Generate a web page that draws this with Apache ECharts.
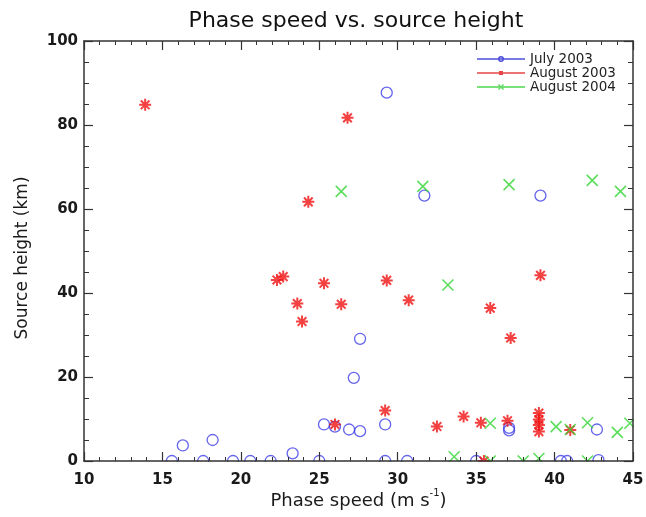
<!DOCTYPE html>
<html>
<head>
<meta charset="utf-8">
<script src="https://cdn.jsdelivr.net/npm/echarts@6/dist/echarts.min.js"></script>
<style>
html,body{margin:0;padding:0;background:#fff;}
#chart{width:646px;height:517px;}
</style>
</head>
<body>
<div id="chart"></div>
<script>
// ---- data (phase speed m/s, source height km) ----
var july2003 = [
  [15.6,0],[16.3,3.7],[17.6,0],[18.2,5.0],[19.5,0],[20.6,0],[21.9,0],[23.3,1.8],
  [25.0,0],[25.3,8.7],[26.0,8.2],[26.9,7.5],[27.6,7.1],[27.2,19.8],[27.6,29.1],
  [29.2,8.7],[29.2,0],[29.3,87.7],[30.6,0],[31.7,63.2],[35.0,0],[37.1,7.9],
  [37.1,7.3],[39.1,63.2],[40.4,0],[40.8,0],[42.7,7.5],[42.8,0.2]
];
var august2003 = [
  [13.9,84.8],[26.8,81.7],[24.3,61.7],[22.3,43.1],[22.7,43.9],[25.3,42.3],
  [23.6,37.5],[26.4,37.3],[23.9,33.2],[29.3,43.0],[30.7,38.3],[35.9,36.4],
  [39.1,44.2],[37.2,29.3],[26.0,8.7],[29.2,12.0],[32.5,8.2],[34.2,10.6],
  [35.3,9.1],[37.0,9.6],[39.0,11.4],[39.0,9.9],[39.0,8.6],[39.0,7.0],[41.0,7.4],
  [35.5,0]
];
var august2004 = [
  [26.4,64.2],[31.6,65.4],[37.1,65.8],[42.4,66.8],[44.2,64.2],[33.2,41.9],
  [33.6,1.0],[35.9,9.0],[35.9,0],[38.0,0],[39.0,0.6],[40.1,8.2],[41.0,7.5],
  [42.1,9.1],[42.1,0],[44.0,6.8],[44.8,9.0]
];
var seriesNames = ['July 2003','August 2003','August 2004'];
var xTicks = {min:10, max:45, step:5};
var yTicks = {min:0, max:100, step:20};

// ---- layout / style ----
var W = 646, H = 517;
var G = {left:84, right:13, top:41, bottom:56};
var FONT = 'DejaVu Sans';
var AX = '#333';
var cBlue = '#3c3ce8', cRed = '#f01010', cGreen = '#33d633';

var starPath = 'path://M0,-1L0,1M-1,0L1,0M-0.72,-0.72L0.72,0.72M-0.72,0.72L0.72,-0.72';
var xPath = 'path://M-1,-1L1,1M-1,1L1,-1';

var lineRect = 'M0,3.25L48,3.25L48,4.75L0,4.75Z';
var iconJuly = 'path://' + lineRect + 'M27,4A3,3 0 1 1 21,4A3,3 0 1 1 27,4Z M25.5,4A1.5,1.5 0 1 0 22.5,4A1.5,1.5 0 1 0 25.5,4Z';
var iconAug03 = 'path://' + lineRect + 'M22,2L26,2L26,6L22,6Z';
var iconAug04 = 'path://' + lineRect +
  'M21.92,1.08L26.92,6.08L26.08,6.92L21.08,1.92Z' +
  'M21.92,6.92L26.92,1.92L26.08,1.08L21.08,6.08Z';

function xAxisCfg(pos, showLabel) {
  return {
    type:'value', position:pos, min:xTicks.min, max:xTicks.max, interval:xTicks.step,
    z:50,
    axisLine:{show:true, onZero:false, lineStyle:{color:AX, width:1.5}},
    axisTick:{show:true, inside:true, length:9, lineStyle:{color:AX, width:1.2}},
    minorTick:{show:true, splitNumber:5, length:4, lineStyle:{color:AX, width:1}},
    splitLine:{show:false}, minorSplitLine:{show:false},
    axisLabel:{show:showLabel, margin:12, color:'#1a1a1a', fontFamily:FONT, fontSize:15, fontWeight:'bold'},
    name: showLabel ? '{main|Phase speed (m s}{sup|-1}{main|)}' : '',
    nameLocation:'middle', nameGap:27, nameMoveOverlap:false,
    nameTextStyle:{color:'#1a1a1a', fontFamily:FONT, fontSize:18,
      rich:{
        main:{fontFamily:FONT, fontSize:18, color:'#1a1a1a', lineHeight:22, verticalAlign:'bottom'},
        sup:{fontFamily:FONT, fontSize:10, color:'#1a1a1a', lineHeight:11, verticalAlign:'top'}
      }}
  };
}
function yAxisCfg(pos, showLabel) {
  return {
    type:'value', position:pos, min:yTicks.min, max:yTicks.max, interval:yTicks.step,
    z:50,
    axisLine:{show:true, onZero:false, lineStyle:{color:AX, width:1.5}},
    axisTick:{show:true, inside:true, length:9, lineStyle:{color:AX, width:1.2}},
    minorTick:{show:true, splitNumber:4, length:5, lineStyle:{color:AX, width:1}},
    splitLine:{show:false}, minorSplitLine:{show:false},
    axisLabel:{show:showLabel, margin:6, color:'#1a1a1a', fontFamily:FONT, fontSize:15, fontWeight:'bold'},
    name: showLabel ? 'Source height (km)' : '',
    nameLocation:'middle', nameGap:53, nameRotate:90, nameMoveOverlap:false,
    nameTextStyle:{color:'#1a1a1a', fontFamily:FONT, fontSize:17, padding:[0,14,0,0]}
  };
}

var chart = echarts.init(document.getElementById('chart'), null, {renderer:'canvas'});
var plotBottom = H - G.bottom, plotRight = W - G.right;
chart.setOption({
  animation:false,
  backgroundColor:'#fff',
  title:{text:'Phase speed vs. source height', left:351, top:5, textAlign:'center',
    textStyle:{fontFamily:FONT, fontSize:22, fontWeight:'normal', color:'#111'}},
  grid:{left:G.left, right:G.right, top:G.top, bottom:G.bottom, containLabel:false, outerBoundsMode:'none'},
  xAxis:[xAxisCfg('bottom', true), xAxisCfg('top', false)],
  yAxis:[yAxisCfg('left', true), yAxisCfg('right', false)],
  legend:{
    orient:'vertical', left:477, top:52, padding:0, itemGap:0,
    itemWidth:48, itemHeight:8, selectedMode:false,
    textStyle:{fontFamily:FONT, fontSize:13.5, color:'#222', lineHeight:12},
    data:[
      {name:seriesNames[0], icon:iconJuly, itemStyle:{color:'#2222d0', borderWidth:0}},
      {name:seriesNames[1], icon:iconAug03, itemStyle:{color:'#e01818', borderWidth:0}},
      {name:seriesNames[2], icon:iconAug04, itemStyle:{color:'#22cc22', borderWidth:0}}
    ]
  },
  graphic:[
    {type:'rect', z:40, silent:true, shape:{x:G.left-14, y:plotBottom+0.8, width:W-G.left+14, height:9}, style:{fill:'#fff'}},
    {type:'rect', z:40, silent:true, shape:{x:plotRight+0.8, y:G.top-10, width:G.right, height:plotBottom-G.top+20}, style:{fill:'#fff'}}
  ],
  series:[
    {name:seriesNames[0], type:'scatter', data:july2003, clip:false, silent:true,
     symbol:'circle', symbolSize:11,
     itemStyle:{color:'rgba(0,0,0,0)', borderColor:cBlue, borderWidth:1.3}},
    {name:seriesNames[1], type:'scatter', data:august2003, clip:false, silent:true,
     symbol:starPath, symbolSize:12,
     itemStyle:{color:cRed, borderColor:cRed, borderWidth:2}},
    {name:seriesNames[2], type:'scatter', data:august2004, clip:false, silent:true,
     symbol:xPath, symbolSize:11,
     itemStyle:{color:cGreen, borderColor:cGreen, borderWidth:1.6}}
  ]
});
</script>
</body>
</html>
